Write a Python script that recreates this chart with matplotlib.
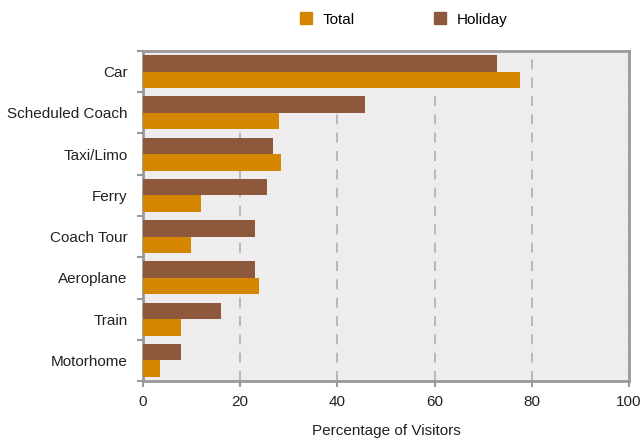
import numpy as np
import matplotlib.pyplot as plt
from matplotlib.lines import Line2D

plt.rcParams['font.family'] = ['Liberation Sans', 'DejaVu Sans']

categories = ["Car", "Scheduled Coach", "Taxi/Limo", "Ferry", "Coach Tour",
              "Aeroplane", "Train", "Motorhome"]
holiday = [72.8, 45.7, 26.7, 25.5, 23.1, 23.1, 16.1, 7.8]
total = [77.6, 28.0, 28.4, 11.9, 9.9, 23.9, 7.8, 3.4]

c_total = "#D48600"
c_holiday = "#8E583D"
grey = "#999999"
fs = 11

fig = plt.figure(figsize=(6.44, 4.41), dpi=100)
ax = fig.add_axes([143 / 644, 1 - 381 / 441, 486 / 644, 330 / 441])
ax.set_facecolor("#EFECED")

y = np.arange(len(categories))
h = 0.4
ax.barh(y - h / 2, holiday, height=h, color=c_holiday, zorder=3)
ax.barh(y + h / 2, total, height=h, color=c_total, zorder=3)

ax.set_xlim(0, 100)
ax.set_ylim(len(categories) - 0.5, -0.5)
ax.set_xticks(range(0, 101, 20))
ax.set_yticks(y)
ax.set_yticklabels(categories)
ax.set_yticks(np.arange(-0.5, len(categories)), minor=True)
ax.tick_params(axis="y", which="major", length=0, pad=11, labelsize=fs, labelcolor="#222222")
ax.tick_params(axis="y", which="minor", length=4, color=grey, width=1.5)
ax.tick_params(axis="x", length=4, color=grey, width=1.5, labelsize=fs, labelcolor="#222222", pad=6)

ax.grid(axis="x", color="#AFAFAF", linestyle=(0, (6, 5)), linewidth=1.2, zorder=1)
for s in ax.spines.values():
    s.set_color(grey)
    s.set_linewidth(2)

ax.set_xlabel("Percentage of Visitors", fontsize=fs, color="#222222", labelpad=11)

handles = [Line2D([], [], marker="s", linestyle="", markersize=8, color=c_total),
           Line2D([], [], marker="s", linestyle="", markersize=8, color=c_holiday)]
fig.legend(handles, ["Total", "Holiday"], loc="center", bbox_to_anchor=(0.62, 0.955),
           ncol=2, frameon=False, fontsize=fs, handletextpad=0.1, columnspacing=4.6)

fig.savefig("out.png", dpi=100)
